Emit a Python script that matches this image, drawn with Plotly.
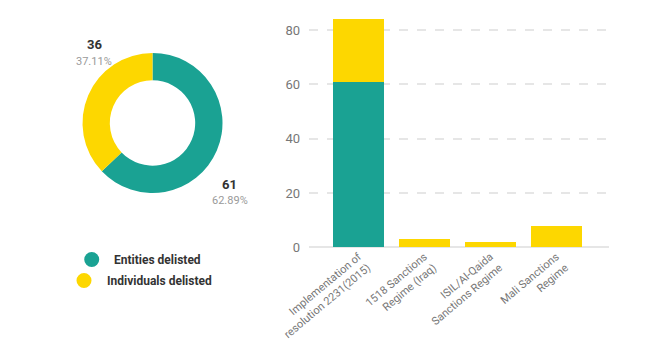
import plotly.graph_objects as go

# Delisting totals by type
types = ["Entities delisted", "Individuals delisted"]
type_totals = [61, 36]

# Delistings by sanctions regime
regimes = [
    "Implementation of<br>resolution 2231(2015)",
    "1518 Sanctions<br>Regime (Iraq)",
    "ISIL/Al-Qaida<br>Sanctions Regime",
    "Mali Sanctions<br>Regime",
]
entities = [61, 0, 0, 0]
individuals = [23, 3, 2, 8]

TEAL = "#1aa293"
YELLOW = "#fdd700"
FONT = "Roboto"

W, H = 655, 340

fig = go.Figure()

# Donut
fig.add_trace(go.Pie(
    labels=types,
    values=type_totals,
    hole=0.61,
    sort=False,
    direction="clockwise",
    rotation=0,
    marker=dict(colors=[TEAL, YELLOW], line=dict(width=0)),
    textinfo="none",
    hoverinfo="label+value+percent",
    showlegend=False,
    automargin=False,
    domain=dict(x=[82.5 / W, 222.5 / W], y=[147 / H, 287 / H]),
))

# Stacked bars
fig.add_trace(go.Bar(
    x=list(range(len(regimes))), y=entities, name=types[0],
    marker=dict(color=TEAL, line=dict(width=0)), width=0.77, showlegend=False,
))
fig.add_trace(go.Bar(
    x=list(range(len(regimes))), y=individuals, name=types[1],
    marker=dict(color=YELLOW, line=dict(width=0)), width=0.77, showlegend=False,
))

# Value / percentage labels around the donut
total = sum(type_totals)
label_pos = [(230, 184), (94, 45)]
annotations = []
for (px, py), v in zip(label_pos, type_totals):
    annotations.append(dict(
        x=px / W, y=1 - py / H, xref="paper", yref="paper",
        text=f"<b>{v}</b>", showarrow=False,
        font=dict(family=FONT, size=13, color="#333333"),
        xanchor="center", yanchor="middle",
    ))
    annotations.append(dict(
        x=px / W, y=1 - (py + 16) / H, xref="paper", yref="paper",
        text=f"{v / total * 100:.2f}%", showarrow=False,
        font=dict(family=FONT, size=11, color="#9a9a9a"),
        xanchor="center", yanchor="middle",
    ))

# Centered legend under the donut
shapes = []
legend_rows = [(259.5, TEAL, types[0]), (280.5, YELLOW, types[1])]
for py, col, txt in legend_rows:
    text_w = 5.15 * len(txt)
    item_w = 15 + 13 + text_w
    left = 142 - item_w / 2
    shapes.append(dict(
        type="circle", xref="paper", yref="paper",
        xsizemode="pixel", ysizemode="pixel",
        xanchor=left / W, yanchor=1 - py / H,
        x0=0, x1=15, y0=-7.5, y1=7.5,
        fillcolor=col, line=dict(width=0),
    ))
    annotations.append(dict(
        x=(left + 28) / W, y=1 - py / H, xref="paper", yref="paper",
        text=f"<b>{txt}</b>", showarrow=False,
        font=dict(family=FONT, size=12, color="#333333"),
        xanchor="left", yanchor="middle",
    ))

fig.update_layout(
    width=W, height=H,
    margin=dict(l=0, r=0, t=0, b=0),
    paper_bgcolor="white", plot_bgcolor="white",
    barmode="stack",
    font=dict(family=FONT),
    annotations=annotations,
    shapes=shapes,
    xaxis=dict(
        domain=[309 / W, 609 / W],
        range=[-0.75, 3.8],
        tickmode="array",
        tickvals=list(range(len(regimes))),
        ticktext=regimes,
        tickangle=-40,
        tickfont=dict(family=FONT, size=11, color="#777777"),
        showgrid=False, zeroline=False, showline=False, ticks="",
        automargin=False,
        fixedrange=True,
    ),
    yaxis=dict(
        domain=[(H - 247.3) / H, (H - 8.3) / H],
        range=[0, 88],
        tickvals=[0, 20, 40, 60, 80],
        tickfont=dict(family=FONT, size=13, color="#777777"),
        showgrid=True, gridcolor="#e6e6e6", griddash="dash", gridwidth=1.5,
        zeroline=True, zerolinecolor="#e6e6e6", zerolinewidth=1.5,
        showline=False, ticks="",
        ticklabelstandoff=8,
        automargin=False,
    ),
)

fig.write_html("out.html")
